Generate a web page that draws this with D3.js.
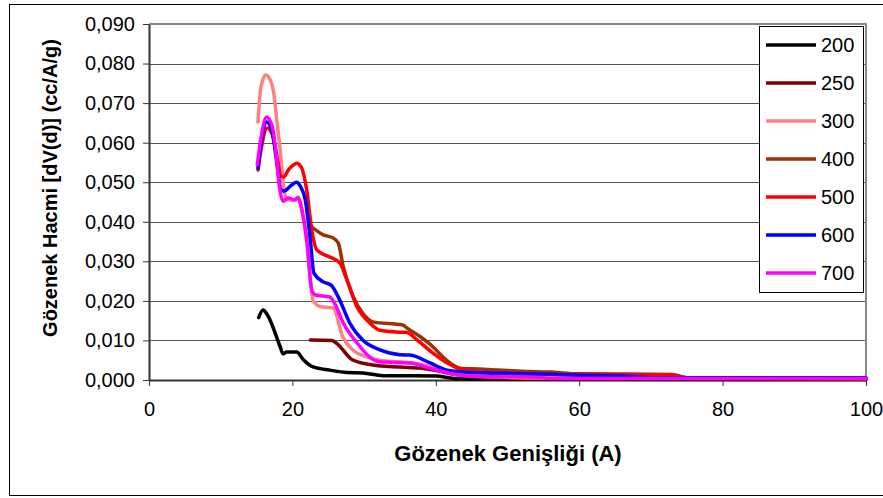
<!DOCTYPE html>
<html>
<head>
<meta charset="utf-8">
<script src="https://cdn.jsdelivr.net/npm/d3@7"></script>
<style>
  body { margin: 0; background: #fff; }
  svg { font-family: "Liberation Sans", Arial, sans-serif; }
</style>
</head>
<body>
<svg width="883" height="498"></svg>
<script>
// series values, [pore width (A), dV(d) (cc/A/g)]
const s200 = [[15.3,0.0158],[15.9,0.0177],[16.5,0.0165],[18.3,0.0084],[18.7,0.0066],[19.2,0.0071],[20.6,0.0071],[21.5,0.0052],[22.9,0.0033],[25.2,0.0025],[27.6,0.0019],[29.8,0.0018],[32.6,0.0011],[40.0,0.0010],[42.5,0.0004],[46,0.0002],[100,0.0001]];
const s250 = [[22.5,0.0101],[25.5,0.0100],[26.4,0.0089],[28.3,0.0052],[31.2,0.0038],[33.6,0.0034],[37.8,0.0030],[40.6,0.0022],[43.0,0.0013],[47,0.0006],[55,0.0003],[100,0.0002]];
const s300 = [[15.2,0.0652],[15.6,0.0740],[16.3,0.0771],[17.0,0.0755],[17.4,0.0725],[17.8,0.0660],[18.3,0.0580],[18.7,0.0500],[19.3,0.0455],[20.4,0.0455],[20.8,0.0460],[21.2,0.0440],[22.0,0.0350],[22.9,0.0200],[24.0,0.0185],[25.7,0.0182],[27.0,0.0110],[28.5,0.0075],[30.4,0.0058],[32.2,0.0050],[36.8,0.0043],[40.2,0.0030],[43,0.0013],[48,0.0008],[55,0.0005],[100,0.0004]];
const s400 = [[22.5,0.0390],[24.3,0.0367],[25.7,0.0359],[26.4,0.0346],[27.1,0.0286],[28.5,0.0210],[29.8,0.0169],[31.2,0.0147],[35.4,0.0139],[36.0,0.0131],[37.8,0.0110],[39.6,0.0084],[41.0,0.0058],[42.4,0.0038],[43.4,0.0030],[46.2,0.0028],[50,0.0024],[52,0.0022],[56,0.0020],[59,0.0016],[73,0.0014],[75,0.0006],[100,0.0005]];
const s500 = [[15.2,0.0531],[15.7,0.0590],[16.5,0.0637],[17.2,0.0620],[17.9,0.0560],[18.4,0.0515],[18.8,0.0513],[19.4,0.0530],[20.1,0.0543],[20.6,0.0548],[21.3,0.0536],[22.0,0.0480],[22.7,0.0380],[23.4,0.0329],[25.2,0.0311],[26.6,0.0296],[27.6,0.0253],[29.0,0.0185],[30.8,0.0144],[32.2,0.0126],[35.0,0.0121],[36.0,0.0120],[37.4,0.0101],[39.6,0.0068],[41.6,0.0043],[43.0,0.0030],[44.8,0.0024],[48,0.0019],[52,0.0016],[60,0.0014],[65,0.0013],[73,0.0012],[75,0.0006],[100,0.0005]];
const s600 = [[15.2,0.0536],[15.7,0.0605],[16.4,0.0652],[17.2,0.0625],[17.9,0.0540],[18.4,0.0480],[18.9,0.0478],[19.7,0.0490],[20.6,0.0500],[21.1,0.0490],[21.8,0.0455],[22.5,0.0354],[23.0,0.0270],[24.3,0.0248],[25.4,0.0240],[26.6,0.0202],[28.0,0.0144],[29.8,0.0101],[32.2,0.0076],[35.0,0.0064],[36.4,0.0063],[39.2,0.0043],[41.6,0.0025],[45,0.0019],[52,0.0016],[60,0.0012],[66,0.0010],[70,0.0006],[100,0.0005]];
const s700 = [[15.1,0.0544],[15.6,0.0610],[16.4,0.0665],[17.2,0.0640],[17.8,0.0560],[18.2,0.0488],[18.7,0.0452],[19.4,0.0460],[20.3,0.0455],[20.8,0.0462],[21.2,0.0440],[22.0,0.0354],[22.7,0.0228],[23.2,0.0215],[25.2,0.0210],[26.0,0.0190],[27.1,0.0144],[29.0,0.0094],[30.8,0.0058],[32.2,0.0046],[36.4,0.0043],[39.2,0.0030],[43.0,0.0013],[46,0.0009],[54,0.0007],[56,0.0004],[100,0.0004]];

const seriesNames = ["200", "250", "300", "400", "500", "600", "700"];
const seriesData = [s200, s250, s300, s400, s500, s600, s700];
const seriesColors = ["#000000", "#800000", "#FF8080", "#993300", "#FF0000", "#0000FF", "#FF00FF"];

const xTicks = [0, 20, 40, 60, 80, 100];
const yTicks = [0, 0.01, 0.02, 0.03, 0.04, 0.05, 0.06, 0.07, 0.08, 0.09];

const PLOT_LEFT = 149;
const PLOT_RIGHT = 866;
const PLOT_TOP = 24;
const PLOT_BOTTOM = 380;

const xScale = d3.scaleLinear().domain([0, 100]).range([PLOT_LEFT, PLOT_RIGHT]);
const yScale = d3.scaleLinear().domain([0, 0.09]).range([PLOT_BOTTOM, PLOT_TOP]);

const fmtY = (v) => d3.format(".3f")(v).replace(".", ",");

const svg = d3.select("svg");

// outer chart border
svg.append("rect")
  .attr("x", 9.5).attr("y", 4.5)
  .attr("width", 880).attr("height", 491)
  .attr("fill", "#fff").attr("stroke", "#000").attr("stroke-width", 1);

// gridlines
svg.append("g")
  .selectAll("line")
  .data(yTicks.slice(1))
  .enter()
  .append("line")
  .attr("x1", PLOT_LEFT).attr("x2", PLOT_RIGHT)
  .attr("y1", (d) => Math.round(yScale(d)) + 0.5)
  .attr("y2", (d) => Math.round(yScale(d)) + 0.5)
  .attr("stroke", "#555").attr("stroke-width", 1);

// plot area border (top and right)
svg.append("path")
  .attr("d", `M${PLOT_LEFT},${PLOT_TOP} H${PLOT_RIGHT} V${PLOT_BOTTOM}`)
  .attr("fill", "none").attr("stroke", "#888").attr("stroke-width", 2);

//y axis
const yAxis = svg.append("g")
  .attr("transform", `translate(${PLOT_LEFT},0)`)
  .call(d3.axisLeft(yScale).tickValues(yTicks).tickFormat(fmtY).tickSize(6).tickSizeOuter(0).tickPadding(8));
yAxis.select(".domain").attr("stroke", "#333").attr("stroke-width", 2);
yAxis.selectAll(".tick line").attr("stroke", "#333");
yAxis.selectAll("text").attr("font-size", 20).attr("fill", "#000").attr("font-family", null);

//x axis
const xAxis = svg.append("g")
  .attr("transform", `translate(0,${PLOT_BOTTOM})`)
  .call(d3.axisBottom(xScale).tickValues(xTicks).tickSize(6).tickSizeOuter(0).tickPadding(16));
xAxis.select(".domain").attr("stroke", "#333").attr("stroke-width", 2);
xAxis.selectAll(".tick line").attr("stroke", "#333");
xAxis.selectAll("text").attr("font-size", 20).attr("fill", "#000").attr("font-family", null);

//series lines
const line = d3.line()
  .x((d) => xScale(d[0]))
  .y((d) => yScale(d[1]))
  .curve(d3.curveMonotoneX);

svg.append("g")
  .selectAll("path")
  .data(seriesData)
  .enter()
  .append("path")
  .attr("d", line)
  .attr("fill", "none")
  .attr("stroke", (d, i) => seriesColors[i])
  .attr("stroke-width", 3.5)
  .attr("stroke-linejoin", "round")
  .attr("stroke-linecap", "round");

//legend
const legend = svg.append("g");
legend.append("rect")
  .attr("x", 759.5).attr("y", 26.5)
  .attr("width", 104).attr("height", 266)
  .attr("fill", "#fff").attr("stroke", "#000").attr("stroke-width", 1);

const legendRows = legend.selectAll(".row")
  .data(seriesNames)
  .enter()
  .append("g")
  .attr("transform", (d, i) => `translate(0, ${45 + i * 38})`);
legendRows.append("line")
  .attr("x1", 766).attr("x2", 816)
  .attr("stroke", (d, i) => seriesColors[i])
  .attr("stroke-width", 3.5);
legendRows.append("text")
  .attr("x", 821).attr("y", 7)
  .attr("font-size", 20)
  .text((d) => d);

//axis titles
svg.append("text")
  .attr("x", 508).attr("y", 461)
  .attr("text-anchor", "middle")
  .attr("font-size", 22).attr("font-weight", "bold")
  .text("Gözenek Genişliği (A)");

svg.append("text")
  .attr("transform", "translate(57,188) rotate(-90)")
  .attr("text-anchor", "middle")
  .attr("font-size", 20).attr("font-weight", "bold")
  .text("Gözenek Hacmi [dV(d)] (cc/A/g)");
</script>
</body>
</html>
